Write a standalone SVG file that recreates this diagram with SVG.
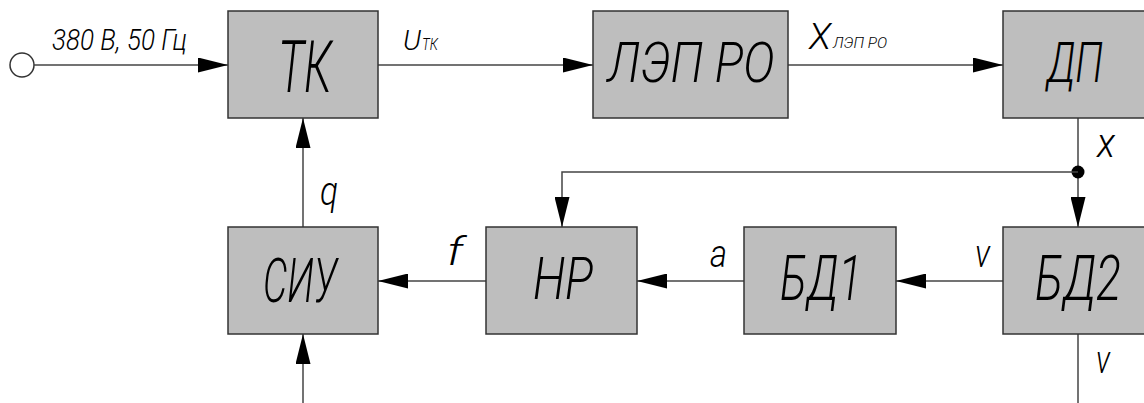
<svg xmlns="http://www.w3.org/2000/svg" width="1144" height="403" viewBox="0 0 1144 403">
<defs>
<marker id="arr" markerUnits="userSpaceOnUse" markerWidth="30" markerHeight="15" refX="30" refY="7.5" orient="auto">
<path d="M0,0 L30,7.5 L0,15 Z" fill="#000"/>
</marker>
<style>
.box{fill:#bebebe;stroke:#333;stroke-width:1.5}
.ln{fill:none;stroke:#444;stroke-width:1.5}
.t{font-family:Roboto,"Liberation Sans",Arial,sans-serif;font-weight:300;font-style:italic;fill:#000}
.bt{text-anchor:middle}
</style>
</defs>
<rect width="1144" height="403" fill="#fff"/>
<g id="connectors">
<circle cx="22" cy="65" r="12" fill="#fff" stroke="#333" stroke-width="1.5"/>
<line class="ln" x1="34" y1="65" x2="228" y2="65" marker-end="url(#arr)"/>
<line class="ln" x1="378" y1="65" x2="593" y2="65" marker-end="url(#arr)"/>
<line class="ln" x1="788" y1="65" x2="1003" y2="65" marker-end="url(#arr)"/>
<line class="ln" x1="1078" y1="118" x2="1078" y2="227" marker-end="url(#arr)"/>
<circle cx="1078" cy="172" r="6.5" fill="#000"/>
<polyline class="ln" points="1078,172 562,172 562,227" marker-end="url(#arr)"/>
<line class="ln" x1="1003" y1="281" x2="896" y2="281" marker-end="url(#arr)"/>
<line class="ln" x1="744" y1="281" x2="637" y2="281" marker-end="url(#arr)"/>
<line class="ln" x1="486" y1="281" x2="378" y2="281" marker-end="url(#arr)"/>
<line class="ln" x1="303" y1="227" x2="303" y2="118" marker-end="url(#arr)"/>
<line class="ln" x1="303" y1="403" x2="303" y2="334" marker-end="url(#arr)"/>
<line class="ln" x1="1078" y1="334" x2="1078" y2="403"/>
<text class="t" x="52" y="50" font-size="29" textLength="135" lengthAdjust="spacingAndGlyphs">380 В, 50 Гц</text>
<text class="t" x="403" y="50" font-size="28" textLength="18" lengthAdjust="spacingAndGlyphs">U</text>
<text class="t" x="422" y="50" font-size="16" textLength="16" lengthAdjust="spacingAndGlyphs">ТК</text>
<text class="t" x="809" y="49" font-size="37" textLength="22" lengthAdjust="spacingAndGlyphs">X</text>
<text class="t" x="833" y="48" font-size="14" textLength="54" lengthAdjust="spacingAndGlyphs">ЛЭП РО</text>
<text class="t" x="1097" y="157" font-size="40" textLength="18" lengthAdjust="spacingAndGlyphs">x</text>
<text class="t" x="320" y="205" font-size="40" textLength="18" lengthAdjust="spacingAndGlyphs">q</text>
<text class="t" x="447" y="265" font-size="38" textLength="16" lengthAdjust="spacingAndGlyphs">f</text>
<text class="t" x="710" y="267" font-size="38" textLength="17" lengthAdjust="spacingAndGlyphs">a</text>
<text class="t" x="975" y="267" font-size="38" textLength="15" lengthAdjust="spacingAndGlyphs">v</text>
<text class="t" x="1096" y="373" font-size="38" textLength="14" lengthAdjust="spacingAndGlyphs">v</text>
</g>
<g id="TK">
<rect class="box" x="228" y="11" width="150" height="107"/>
<text class="t bt" x="305" y="92" font-size="72" textLength="54" lengthAdjust="spacingAndGlyphs">ТК</text>
</g>
<g id="LEP">
<rect class="box" x="593" y="11" width="195" height="107"/>
<text class="t bt" x="691" y="82" font-size="56" textLength="167" lengthAdjust="spacingAndGlyphs">ЛЭП РО</text>
</g>
<g id="DP">
<rect class="box" x="1003" y="11" width="150" height="107"/>
<text class="t bt" x="1075" y="82" font-size="56" textLength="56" lengthAdjust="spacingAndGlyphs">ДП</text>
</g>
<g id="SIU">
<rect class="box" x="228" y="227" width="150" height="107"/>
<text class="t bt" x="300" y="302" font-size="61" textLength="74" lengthAdjust="spacingAndGlyphs">СИУ</text>
</g>
<g id="HR">
<rect class="box" x="486" y="227" width="151" height="107"/>
<text class="t bt" x="563" y="299" font-size="60" textLength="60" lengthAdjust="spacingAndGlyphs">НР</text>
</g>
<g id="BD1">
<rect class="box" x="744" y="227" width="152" height="107"/>
<text class="t bt" x="821" y="300" font-size="62" textLength="82" lengthAdjust="spacingAndGlyphs">БД1</text>
</g>
<g id="BD2">
<rect class="box" x="1003" y="227" width="150" height="107"/>
<text class="t bt" x="1078" y="300" font-size="62" textLength="86" lengthAdjust="spacingAndGlyphs">БД2</text>
</g>
</svg>
